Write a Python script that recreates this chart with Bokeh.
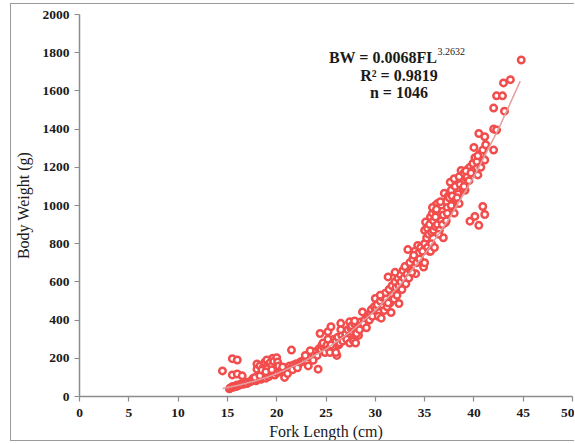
from bokeh.plotting import figure
from bokeh.models import Label, FixedTicker, Range1d
from bokeh.embed import file_html
from bokeh.resources import INLINE

# ---------------- data ----------------
fork_length = [
    14.5, 15.2, 15.3, 15.5, 15.6, 15.8, 15.9, 16.0, 16.1, 16.3, 16.4, 16.6, 16.8, 16.9, 17.0, 15.5, 16.0, 15.5, 16.0, 16.5,
    17.2, 17.4, 17.5, 17.7, 17.9, 18.0, 18.2, 18.4, 18.5, 18.7, 18.9, 19.0, 19.2, 19.4, 19.6, 19.8, 20.0, 17.6, 17.8, 18.3,
    18.0, 18.0, 18.3, 18.6, 18.5, 18.8, 19.0, 19.1, 19.3, 19.4, 19.6, 19.7, 20.0, 20.1, 19.0, 18.9, 19.5, 20.2,
    20.3, 20.5, 20.7, 20.8, 21.0, 21.2, 21.3, 21.5, 21.7, 21.9, 22.0, 22.2, 22.4, 20.6, 21.1, 21.6, 22.1, 21.5,
    22.6, 22.8, 23.0, 23.1, 23.3, 23.5, 23.6, 23.8, 24.0, 24.1, 24.3, 24.5, 24.6, 24.8, 25.0, 23.2, 23.7, 24.2, 24.4, 24.7,
    22.9, 23.4, 24.9,
    25.1, 25.2, 25.3, 25.5, 25.6, 25.8, 25.9, 26.0, 26.2, 26.3, 26.5, 26.6, 26.8, 26.9, 27.0, 27.2, 27.3, 27.5, 25.4, 25.7,
    26.1, 26.4, 26.7, 27.1, 27.4, 25.2, 25.5, 26.5, 27.4, 26.0,
    27.6, 27.7, 27.9, 28.0, 28.2, 28.3, 28.5, 28.6, 28.7, 28.9, 29.0, 29.2, 29.3, 29.5, 29.6, 29.8, 30.0, 27.8, 28.1, 28.4,
    28.8, 29.1, 29.4, 29.7, 29.9, 28.0, 27.9,
    30.1, 30.2, 30.4, 30.5, 30.7, 30.8, 31.0, 31.1, 31.3, 31.4, 31.5, 31.7, 31.8, 32.0, 32.1, 32.3, 32.4, 32.5, 30.3, 30.6,
    30.9, 31.2, 31.6, 31.9, 32.2, 31.3, 32.4, 32.0, 30.5,
    32.6, 32.8, 32.9, 33.0, 33.2, 33.3, 33.5, 33.6, 33.8, 34.0, 34.1, 34.3, 34.4, 34.6, 34.8, 35.0, 32.7, 33.1, 33.4, 33.7,
    34.2, 34.5, 34.9, 35.0, 35.0, 33.9,
    35.1, 35.2, 35.3, 35.4, 35.5, 35.6, 35.7, 35.8, 35.9, 36.0, 36.1, 36.2, 36.3, 36.4, 36.5, 36.6, 36.7, 36.8, 36.9, 37.0,
    37.1, 37.2, 37.3, 37.4, 37.5, 35.3, 35.5, 35.7, 35.9, 36.1, 36.3, 36.5, 36.7, 36.9, 37.1, 37.3, 35.6, 36.0, 36.4, 36.8,
    37.2, 35.8, 36.2, 36.6, 36.1,
    37.6, 37.7, 37.8, 38.0, 38.1, 38.2, 38.4, 38.5, 38.7, 38.8, 39.0, 39.1, 39.3, 39.4, 39.6, 39.8, 40.0, 37.9, 38.3, 38.6,
    38.9, 39.2, 39.5, 39.7, 38.0, 38.5, 39.0, 39.9, 37.7,
    40.1, 40.3, 40.5, 40.6, 40.8, 40.9, 41.0, 41.1, 41.2, 40.4, 40.7, 41.1, 42.0, 42.0, 42.3, 42.0, 42.3, 42.9, 43.1, 43.0,
    43.7, 44.8, 39.6, 40.1, 40.5, 40.9, 41.1, 40.4,
]
body_weight = [
    134, 40, 45, 52, 48, 55, 52, 60, 57, 62, 66, 64, 70, 74, 68, 198, 191, 113, 118, 108,
    76, 80, 84, 88, 82, 92, 95, 90, 98, 104, 96, 110, 105, 115, 120, 112, 125, 95, 100, 108,
    170, 143, 160, 150, 139, 180, 191, 165, 175, 157, 200, 185, 203, 180, 145, 130, 140, 160,
    128, 135, 140, 100, 150, 145, 160, 150, 165, 155, 172, 168, 180, 155, 120, 140, 150, 243,
    185, 190, 200, 175, 210, 205, 230, 220, 235, 215, 250, 245, 270, 255, 265, 160, 190, 143, 330, 280,
    215, 240, 230,
    270, 339, 250, 365, 285, 300, 240, 290, 310, 270, 383, 320, 300, 340, 330, 350, 310, 360, 230, 260,
    215, 280, 290, 300, 391, 300, 270, 350, 280, 230,
    370, 300, 380, 340, 360, 320, 390, 370, 443, 400, 380, 420, 410, 440, 455, 430, 513, 290, 330, 350,
    380, 360, 400, 420, 470, 280, 395,
    460, 480, 440, 500, 520, 470, 540, 510, 626, 560, 490, 580, 530, 600, 570, 620, 487, 640, 420, 410,
    450, 470, 440, 510, 530, 490, 580, 650, 530,
    600, 660, 620, 680, 640, 769, 700, 660, 720, 760, 643, 791, 750, 780, 760, 870, 560, 590, 620, 650,
    700, 720, 678, 700, 800, 740,
    913, 830, 880, 850, 900, 940, 860, 960, 920, 980, 1000, 950, 1010, 930, 990, 960, 1000, 970, 831, 1064,
    940, 1020, 990, 1050, 1040, 780, 760, 800, 870, 890, 900, 870, 920, 950, 910, 960, 760, 780, 850, 900,
    920, 990, 980, 1020, 940,
    1122, 1080, 1050, 1140, 1100, 1030, 1060, 1150, 1183, 1120, 1170, 1080, 1150, 1190, 1200, 1180, 1304, 1000, 1040, 1110,
    1090, 1180, 1130, 1170, 960, 1010, 1100, 1220, 1000,
    1250, 1230, 1377, 1270, 1260, 1290, 1240, 1360, 1318, 1160, 1200, 1238, 1290, 1400, 1395, 1510, 1574, 1574, 1494, 1642,
    1659, 1762, 918, 943, 896, 995, 953, 1260,
]

# fitted power curve
fit_length = [14.5, 16.0, 17.5, 19.0, 20.0, 22.5, 25.0, 27.5, 30.0, 32.5, 35.0, 37.5, 40.0, 42.5, 44.7]
fit_weight = [42, 58, 77, 101, 120, 176, 248, 339, 450, 584, 744, 932, 1150, 1401, 1651]

x_ticks = [0, 5, 10, 15, 20, 25, 30, 35, 40, 45, 50]
y_ticks = [0, 200, 400, 600, 800, 1000, 1200, 1400, 1600, 1800, 2000]

eq_main = "BW = 0.0068FL"
eq_exp = "3.2632"
r2_text = "R² = 0.9819"
n_text = "n = 1046"

# ---------------- figure ----------------
# the figure sits inside a thin grey frame that starts 10 px from the left and 3 px from the top
p = figure(width=564, height=438, output_backend="svg", toolbar_location=None,
           x_range=Range1d(0, 50), y_range=Range1d(0, 2000),
           min_border_left=66, min_border_right=3, min_border_top=10, min_border_bottom=44)
p.margin = (3, 0, 0, 10)
p.styles = {"border-left": "1px solid #9a9a9a", "border-top": "1px solid #9a9a9a",
            "border-bottom": "1px solid #9a9a9a"}
p.outline_line_color = None
p.xgrid.visible = False
p.ygrid.visible = False
p.background_fill_color = "white"
p.border_fill_color = "white"

SERIF = "Liberation Serif"
for ax, ticks in ((p.xaxis, x_ticks), (p.yaxis, y_ticks)):
    ax.ticker = FixedTicker(ticks=ticks)
    ax.axis_line_color = "#8c8c8c"
    ax.axis_line_width = 1.5
    ax.major_tick_line_color = "#8c8c8c"
    ax.major_tick_line_width = 1.2
    ax.major_tick_in = 0
    ax.major_tick_out = 5
    ax.minor_tick_line_color = None
    ax.major_label_text_font = SERIF
    ax.major_label_text_font_style = "bold"
    ax.major_label_text_font_size = "13.5px"
    ax.major_label_text_color = "#1a1a1a"
    ax.major_label_standoff = 5
    ax.axis_label_text_font = SERIF
    ax.axis_label_text_font_style = "normal"
    ax.axis_label_text_font_size = "16px"
    ax.axis_label_text_color = "#1a1a1a"

p.xaxis.major_label_standoff = 7
p.xaxis.axis_label = "Fork Length (cm)"
p.yaxis.axis_label = "Body Weight (g)"
p.xaxis.axis_label_standoff = 3
p.yaxis.axis_label_standoff = 8

p.scatter(fork_length, body_weight, marker="circle", size=6.5, fill_color="white",
          line_color="#f24d4d", line_width=2.5)
p.line(fit_length, fit_weight, line_color="#e3a0a0", line_width=1.5)

# equation annotation
common = dict(text_font=SERIF, text_color="#1a1a1a", text_font_style="bold")
p.add_layout(Label(x=36.27, y=1775, text=eq_main, text_align="right", text_baseline="middle",
                   text_font_size="16px", **common))
p.add_layout(Label(x=36.3, y=1808, text=eq_exp, text_align="left", text_baseline="middle",
                   text_font_size="10px", text_font=SERIF, text_color="#1a1a1a"))
p.add_layout(Label(x=32.4, y=1683, text=r2_text, text_align="center", text_baseline="middle",
                   text_font_size="16px", **common))
p.add_layout(Label(x=32.4, y=1594, text=n_text, text_align="center", text_baseline="middle",
                   text_font_size="16px", **common))

open("out.html", "w").write(file_html(p, INLINE))
